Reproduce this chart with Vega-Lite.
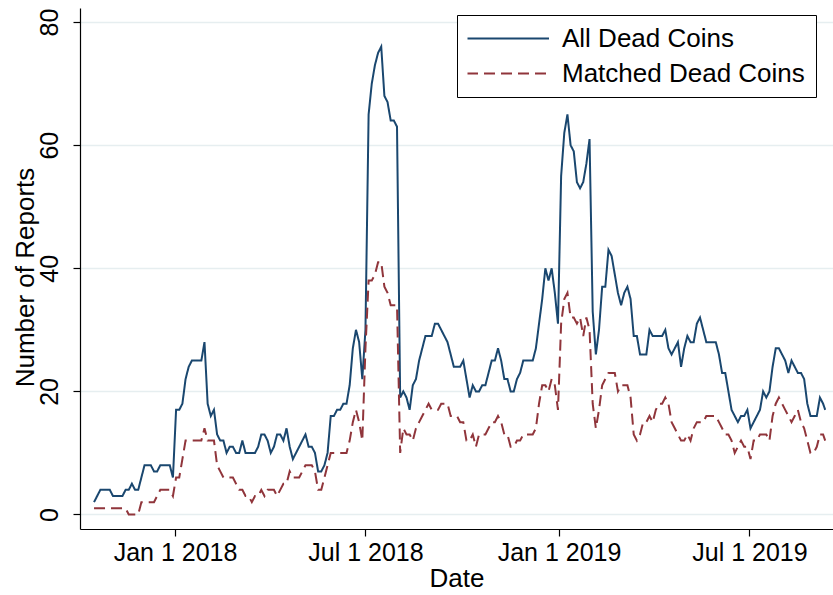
{
  "$schema": "https://vega.github.io/schema/vega-lite/v6.json",
  "width": 753,
  "height": 521,
  "autosize": "none",
  "padding": {"left": 80, "top": 8, "right": 0, "bottom": 66},
  "background": "white",
  "config": {
    "font": "Liberation Sans",
    "view": {"stroke": null},
    "axis": {"labelFont": "Liberation Sans", "titleFont": "Liberation Sans"},
    "legend": {"labelFont": "Liberation Sans"}
  },
  "data": {
    "values": [
      {"date": "2017-10-16", "all": 2, "matched": 1},
      {"date": "2017-10-19", "all": 3, "matched": 1},
      {"date": "2017-10-22", "all": 4, "matched": 1},
      {"date": "2017-10-25", "all": 4, "matched": 1},
      {"date": "2017-10-28", "all": 4, "matched": 1},
      {"date": "2017-10-31", "all": 4, "matched": 1},
      {"date": "2017-11-03", "all": 3, "matched": 1},
      {"date": "2017-11-06", "all": 3, "matched": 1},
      {"date": "2017-11-09", "all": 3, "matched": 1},
      {"date": "2017-11-12", "all": 3, "matched": 1},
      {"date": "2017-11-15", "all": 4, "matched": 1},
      {"date": "2017-11-18", "all": 4, "matched": 0},
      {"date": "2017-11-21", "all": 5, "matched": 0},
      {"date": "2017-11-24", "all": 4, "matched": 0},
      {"date": "2017-11-27", "all": 4, "matched": 0},
      {"date": "2017-11-30", "all": 6, "matched": 2},
      {"date": "2017-12-03", "all": 8, "matched": 2},
      {"date": "2017-12-06", "all": 8, "matched": 2},
      {"date": "2017-12-09", "all": 8, "matched": 2},
      {"date": "2017-12-12", "all": 7, "matched": 2},
      {"date": "2017-12-15", "all": 7, "matched": 3},
      {"date": "2017-12-18", "all": 8, "matched": 4},
      {"date": "2017-12-21", "all": 8, "matched": 4},
      {"date": "2017-12-24", "all": 8, "matched": 4},
      {"date": "2017-12-27", "all": 8, "matched": 4},
      {"date": "2017-12-30", "all": 6, "matched": 3},
      {"date": "2018-01-02", "all": 17, "matched": 6},
      {"date": "2018-01-05", "all": 17, "matched": 6},
      {"date": "2018-01-08", "all": 18, "matched": 9},
      {"date": "2018-01-11", "all": 22, "matched": 12},
      {"date": "2018-01-14", "all": 24, "matched": 12},
      {"date": "2018-01-17", "all": 25, "matched": 12},
      {"date": "2018-01-20", "all": 25, "matched": 12},
      {"date": "2018-01-23", "all": 25, "matched": 12},
      {"date": "2018-01-26", "all": 25, "matched": 12},
      {"date": "2018-01-29", "all": 28, "matched": 14},
      {"date": "2018-02-01", "all": 18, "matched": 12},
      {"date": "2018-02-04", "all": 16, "matched": 12},
      {"date": "2018-02-07", "all": 17, "matched": 12},
      {"date": "2018-02-10", "all": 13, "matched": 8},
      {"date": "2018-02-13", "all": 12, "matched": 7},
      {"date": "2018-02-16", "all": 12, "matched": 6},
      {"date": "2018-02-19", "all": 10, "matched": 6},
      {"date": "2018-02-22", "all": 11, "matched": 6},
      {"date": "2018-02-25", "all": 11, "matched": 6},
      {"date": "2018-02-28", "all": 10, "matched": 5},
      {"date": "2018-03-03", "all": 10, "matched": 4},
      {"date": "2018-03-06", "all": 12, "matched": 4},
      {"date": "2018-03-09", "all": 10, "matched": 3},
      {"date": "2018-03-12", "all": 10, "matched": 3},
      {"date": "2018-03-15", "all": 10, "matched": 2},
      {"date": "2018-03-18", "all": 10, "matched": 3},
      {"date": "2018-03-21", "all": 11, "matched": 3},
      {"date": "2018-03-24", "all": 13, "matched": 4},
      {"date": "2018-03-27", "all": 13, "matched": 3},
      {"date": "2018-03-30", "all": 12, "matched": 4},
      {"date": "2018-04-02", "all": 10, "matched": 4},
      {"date": "2018-04-05", "all": 11, "matched": 4},
      {"date": "2018-04-08", "all": 13, "matched": 3},
      {"date": "2018-04-11", "all": 13, "matched": 4},
      {"date": "2018-04-14", "all": 12, "matched": 5},
      {"date": "2018-04-17", "all": 14, "matched": 5},
      {"date": "2018-04-20", "all": 11, "matched": 7},
      {"date": "2018-04-23", "all": 9, "matched": 6},
      {"date": "2018-04-26", "all": 10, "matched": 6},
      {"date": "2018-04-29", "all": 11, "matched": 6},
      {"date": "2018-05-02", "all": 12, "matched": 7},
      {"date": "2018-05-05", "all": 13, "matched": 8},
      {"date": "2018-05-08", "all": 11, "matched": 8},
      {"date": "2018-05-11", "all": 11, "matched": 8},
      {"date": "2018-05-14", "all": 10, "matched": 7},
      {"date": "2018-05-17", "all": 7, "matched": 4},
      {"date": "2018-05-20", "all": 7, "matched": 4},
      {"date": "2018-05-23", "all": 8, "matched": 6},
      {"date": "2018-05-26", "all": 10, "matched": 8},
      {"date": "2018-05-29", "all": 16, "matched": 10},
      {"date": "2018-06-01", "all": 16, "matched": 10},
      {"date": "2018-06-04", "all": 17, "matched": 10},
      {"date": "2018-06-07", "all": 17, "matched": 10},
      {"date": "2018-06-10", "all": 18, "matched": 10},
      {"date": "2018-06-13", "all": 18, "matched": 10},
      {"date": "2018-06-16", "all": 21, "matched": 12},
      {"date": "2018-06-19", "all": 27, "matched": 15},
      {"date": "2018-06-22", "all": 30, "matched": 17},
      {"date": "2018-06-25", "all": 28, "matched": 15},
      {"date": "2018-06-28", "all": 22, "matched": 12},
      {"date": "2018-07-01", "all": 30, "matched": 27},
      {"date": "2018-07-04", "all": 65, "matched": 38},
      {"date": "2018-07-07", "all": 70, "matched": 38},
      {"date": "2018-07-10", "all": 73, "matched": 39},
      {"date": "2018-07-13", "all": 75, "matched": 41},
      {"date": "2018-07-16", "all": 76, "matched": 41},
      {"date": "2018-07-19", "all": 68, "matched": 37},
      {"date": "2018-07-22", "all": 67, "matched": 36},
      {"date": "2018-07-25", "all": 64, "matched": 34},
      {"date": "2018-07-28", "all": 64, "matched": 34},
      {"date": "2018-07-31", "all": 63, "matched": 34},
      {"date": "2018-08-03", "all": 19, "matched": 10},
      {"date": "2018-08-06", "all": 20, "matched": 14},
      {"date": "2018-08-09", "all": 19, "matched": 13},
      {"date": "2018-08-12", "all": 17, "matched": 13},
      {"date": "2018-08-15", "all": 21, "matched": 12},
      {"date": "2018-08-18", "all": 22, "matched": 14},
      {"date": "2018-08-21", "all": 25, "matched": 15},
      {"date": "2018-08-24", "all": 27, "matched": 16},
      {"date": "2018-08-27", "all": 29, "matched": 17},
      {"date": "2018-08-30", "all": 29, "matched": 18},
      {"date": "2018-09-02", "all": 29, "matched": 17},
      {"date": "2018-09-05", "all": 31, "matched": 17},
      {"date": "2018-09-08", "all": 31, "matched": 17},
      {"date": "2018-09-11", "all": 30, "matched": 18},
      {"date": "2018-09-14", "all": 29, "matched": 18},
      {"date": "2018-09-17", "all": 28, "matched": 18},
      {"date": "2018-09-20", "all": 26, "matched": 16},
      {"date": "2018-09-23", "all": 24, "matched": 16},
      {"date": "2018-09-26", "all": 24, "matched": 16},
      {"date": "2018-09-29", "all": 24, "matched": 15},
      {"date": "2018-10-02", "all": 25, "matched": 15},
      {"date": "2018-10-05", "all": 22, "matched": 12},
      {"date": "2018-10-08", "all": 19, "matched": 12},
      {"date": "2018-10-11", "all": 21, "matched": 13},
      {"date": "2018-10-14", "all": 20, "matched": 11},
      {"date": "2018-10-17", "all": 20, "matched": 13},
      {"date": "2018-10-20", "all": 21, "matched": 13},
      {"date": "2018-10-23", "all": 21, "matched": 13},
      {"date": "2018-10-26", "all": 23, "matched": 14},
      {"date": "2018-10-29", "all": 25, "matched": 15},
      {"date": "2018-11-01", "all": 25, "matched": 15},
      {"date": "2018-11-04", "all": 27, "matched": 16},
      {"date": "2018-11-07", "all": 25, "matched": 15},
      {"date": "2018-11-10", "all": 22, "matched": 13},
      {"date": "2018-11-13", "all": 22, "matched": 13},
      {"date": "2018-11-16", "all": 20, "matched": 11},
      {"date": "2018-11-19", "all": 20, "matched": 11},
      {"date": "2018-11-22", "all": 22, "matched": 12},
      {"date": "2018-11-25", "all": 23, "matched": 12},
      {"date": "2018-11-28", "all": 25, "matched": 13},
      {"date": "2018-12-01", "all": 25, "matched": 13},
      {"date": "2018-12-04", "all": 25, "matched": 13},
      {"date": "2018-12-07", "all": 25, "matched": 13},
      {"date": "2018-12-10", "all": 27, "matched": 14},
      {"date": "2018-12-13", "all": 31, "matched": 18},
      {"date": "2018-12-16", "all": 35, "matched": 21},
      {"date": "2018-12-19", "all": 40, "matched": 21},
      {"date": "2018-12-22", "all": 38, "matched": 20},
      {"date": "2018-12-25", "all": 40, "matched": 22},
      {"date": "2018-12-28", "all": 36, "matched": 21},
      {"date": "2018-12-31", "all": 31, "matched": 17},
      {"date": "2019-01-03", "all": 55, "matched": 31},
      {"date": "2019-01-06", "all": 62, "matched": 35},
      {"date": "2019-01-09", "all": 65, "matched": 36},
      {"date": "2019-01-12", "all": 60, "matched": 32},
      {"date": "2019-01-15", "all": 59, "matched": 32},
      {"date": "2019-01-18", "all": 54, "matched": 31},
      {"date": "2019-01-21", "all": 53, "matched": 32},
      {"date": "2019-01-24", "all": 54, "matched": 29},
      {"date": "2019-01-27", "all": 57, "matched": 32},
      {"date": "2019-01-30", "all": 61, "matched": 30},
      {"date": "2019-02-02", "all": 33, "matched": 18},
      {"date": "2019-02-05", "all": 26, "matched": 14},
      {"date": "2019-02-08", "all": 30, "matched": 17},
      {"date": "2019-02-11", "all": 37, "matched": 21},
      {"date": "2019-02-14", "all": 37, "matched": 22},
      {"date": "2019-02-17", "all": 43, "matched": 23},
      {"date": "2019-02-20", "all": 42, "matched": 23},
      {"date": "2019-02-23", "all": 39, "matched": 23},
      {"date": "2019-02-26", "all": 36, "matched": 20},
      {"date": "2019-03-01", "all": 34, "matched": 21},
      {"date": "2019-03-04", "all": 36, "matched": 21},
      {"date": "2019-03-07", "all": 37, "matched": 21},
      {"date": "2019-03-10", "all": 35, "matched": 19},
      {"date": "2019-03-13", "all": 29, "matched": 13},
      {"date": "2019-03-16", "all": 29, "matched": 12},
      {"date": "2019-03-19", "all": 26, "matched": 13},
      {"date": "2019-03-22", "all": 26, "matched": 15},
      {"date": "2019-03-25", "all": 26, "matched": 15},
      {"date": "2019-03-28", "all": 30, "matched": 16},
      {"date": "2019-03-31", "all": 29, "matched": 15},
      {"date": "2019-04-03", "all": 29, "matched": 17},
      {"date": "2019-04-06", "all": 29, "matched": 18},
      {"date": "2019-04-09", "all": 29, "matched": 18},
      {"date": "2019-04-12", "all": 30, "matched": 19},
      {"date": "2019-04-15", "all": 27, "matched": 18},
      {"date": "2019-04-18", "all": 26, "matched": 15},
      {"date": "2019-04-21", "all": 27, "matched": 14},
      {"date": "2019-04-24", "all": 28, "matched": 13},
      {"date": "2019-04-27", "all": 24, "matched": 12},
      {"date": "2019-04-30", "all": 27, "matched": 12},
      {"date": "2019-05-03", "all": 29, "matched": 13},
      {"date": "2019-05-06", "all": 28, "matched": 12},
      {"date": "2019-05-09", "all": 28, "matched": 14},
      {"date": "2019-05-12", "all": 31, "matched": 15},
      {"date": "2019-05-15", "all": 32, "matched": 15},
      {"date": "2019-05-18", "all": 30, "matched": 15},
      {"date": "2019-05-21", "all": 28, "matched": 16},
      {"date": "2019-05-24", "all": 28, "matched": 16},
      {"date": "2019-05-27", "all": 28, "matched": 16},
      {"date": "2019-05-30", "all": 28, "matched": 16},
      {"date": "2019-06-02", "all": 26, "matched": 15},
      {"date": "2019-06-05", "all": 23, "matched": 14},
      {"date": "2019-06-08", "all": 23, "matched": 13},
      {"date": "2019-06-11", "all": 20, "matched": 13},
      {"date": "2019-06-14", "all": 17, "matched": 12},
      {"date": "2019-06-17", "all": 16, "matched": 10},
      {"date": "2019-06-20", "all": 15, "matched": 11},
      {"date": "2019-06-23", "all": 16, "matched": 12},
      {"date": "2019-06-26", "all": 16, "matched": 11},
      {"date": "2019-06-29", "all": 17, "matched": 11},
      {"date": "2019-07-02", "all": 14, "matched": 9},
      {"date": "2019-07-05", "all": 15, "matched": 12},
      {"date": "2019-07-08", "all": 16, "matched": 12},
      {"date": "2019-07-11", "all": 17, "matched": 13},
      {"date": "2019-07-14", "all": 20, "matched": 13},
      {"date": "2019-07-17", "all": 19, "matched": 13},
      {"date": "2019-07-20", "all": 20, "matched": 12},
      {"date": "2019-07-23", "all": 24, "matched": 16},
      {"date": "2019-07-26", "all": 27, "matched": 18},
      {"date": "2019-07-29", "all": 27, "matched": 19},
      {"date": "2019-08-01", "all": 26, "matched": 18},
      {"date": "2019-08-04", "all": 25, "matched": 17},
      {"date": "2019-08-07", "all": 23, "matched": 16},
      {"date": "2019-08-10", "all": 25, "matched": 15},
      {"date": "2019-08-13", "all": 24, "matched": 16},
      {"date": "2019-08-16", "all": 23, "matched": 17},
      {"date": "2019-08-19", "all": 23, "matched": 15},
      {"date": "2019-08-22", "all": 22, "matched": 14},
      {"date": "2019-08-25", "all": 18, "matched": 12},
      {"date": "2019-08-28", "all": 16, "matched": 10},
      {"date": "2019-08-31", "all": 16, "matched": 10},
      {"date": "2019-09-03", "all": 16, "matched": 11},
      {"date": "2019-09-06", "all": 19, "matched": 13},
      {"date": "2019-09-09", "all": 18, "matched": 13},
      {"date": "2019-09-11", "all": 17, "matched": 12}
    ]
  },
  "transform": [
    {"fold": ["all", "matched"], "as": ["series", "reports"]}
  ],
  "mark": {"type": "line", "strokeWidth": 2, "interpolate": "linear"},
  "encoding": {
    "x": {
      "field": "date",
      "type": "temporal",
      "scale": {
        "type": "utc",
        "domain": [
          {"year": 2017, "month": 10, "date": 2, "hours": 16, "utc": true},
          {"year": 2019, "month": 9, "date": 18, "hours": 10, "utc": true}
        ]
      },
      "axis": {
        "title": "Date",
        "values": [
          {"year": 2018, "month": 1, "date": 1, "utc": true},
          {"year": 2018, "month": 7, "date": 1, "utc": true},
          {"year": 2019, "month": 1, "date": 1, "utc": true},
          {"year": 2019, "month": 7, "date": 1, "utc": true}
        ],
        "labelExpr": "utcFormat(datum.value, '%b %-d %Y')",
        "grid": false,
        "domainColor": "#000000",
        "domainWidth": 1.2,
        "tickColor": "#000000",
        "tickWidth": 1.2,
        "tickSize": 7,
        "labelFontSize": 25,
        "labelColor": "#000000",
        "labelBaseline": "alphabetic",
        "labelPadding": 24,
        "labelFlush": false,
        "labelOverlap": false,
        "titleFontSize": 26,
        "titleFontWeight": "normal",
        "titleColor": "#000000",
        "titleBaseline": "alphabetic",
        "titleY": 57
      }
    },
    "y": {
      "field": "reports",
      "type": "quantitative",
      "scale": {"domain": [-2.36, 82.29], "nice": false, "zero": false},
      "axis": {
        "title": "Number of Reports",
        "values": [0, 20, 40, 60, 80],
        "grid": true,
        "gridColor": "#e6eef0",
        "gridWidth": 1.3,
        "domainColor": "#000000",
        "domainWidth": 1.2,
        "tickColor": "#000000",
        "tickWidth": 1.2,
        "tickSize": 7,
        "labelAngle": -90,
        "labelAlign": "center",
        "labelBaseline": "alphabetic",
        "labelPadding": 16,
        "labelFontSize": 25,
        "labelColor": "#000000",
        "labelFlush": false,
        "titleFontSize": 26,
        "titleFontWeight": "normal",
        "titleColor": "#000000",
        "titleAngle": -90,
        "titleAlign": "center",
        "titleBaseline": "alphabetic",
        "titleX": -47,
        "titleY": 269
      }
    },
    "color": {
      "field": "series",
      "type": "nominal",
      "scale": {"domain": ["all", "matched"], "range": ["#1a476f", "#90353b"]},
      "legend": {
        "title": null,
        "orient": "none",
        "legendX": 377,
        "legendY": 7,
        "labelExpr": "datum.value == 'all' ? 'All Dead Coins' : 'Matched Dead Coins'",
        "labelFontSize": 26,
        "labelLimit": 400,
        "labelColor": "#000000",
        "symbolType": "stroke",
        "symbolSize": 6724,
        "symbolStrokeWidth": 2,
        "clipHeight": 26,
        "rowPadding": 9,
        "padding": 10.5,
        "symbolOffset": -1.5,
        "labelOffset": 12,
        "strokeColor": "#000000",
        "fillColor": "#ffffff"
      }
    },
    "strokeDash": {
      "field": "series",
      "type": "nominal",
      "scale": {"domain": ["all", "matched"], "range": [[1, 0], [11, 6]]},
      "legend": {
        "title": null,
        "orient": "none",
        "legendX": 377,
        "legendY": 7,
        "labelExpr": "datum.value == 'all' ? 'All Dead Coins' : 'Matched Dead Coins'",
        "labelFontSize": 26,
        "labelLimit": 400,
        "labelColor": "#000000",
        "symbolType": "stroke",
        "symbolSize": 6724,
        "symbolStrokeWidth": 2,
        "clipHeight": 26,
        "rowPadding": 9,
        "padding": 10.5,
        "symbolOffset": -1.5,
        "labelOffset": 12,
        "strokeColor": "#000000",
        "fillColor": "#ffffff"
      }
    }
  }
}
